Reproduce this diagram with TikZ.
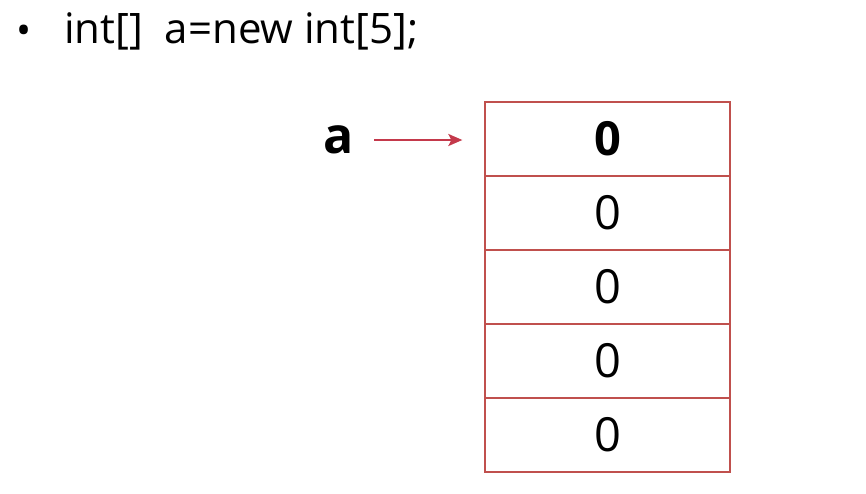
\documentclass[tikz,border=0pt]{standalone}
\usepackage{fontspec}
\setmainfont{Open Sans}
\usetikzlibrary{arrows.meta}
\definecolor{boxred}{RGB}{192,80,77}
\definecolor{arrred}{RGB}{196,57,75}
\tikzset{
  cell/.style={draw=boxred, line width=1.3pt, minimum width=245pt, minimum height=74pt, inner sep=0pt, font=\fontsize{47}{50}\selectfont},
  ptr/.style={draw=arrred, line width=2.2pt, -{Stealth[length=14pt,width=12pt,inset=3pt]}},
}
\begin{document}
\begin{tikzpicture}[x=1pt,y=-1pt]
\useasboundingbox (0,0) rectangle (866,493);
\node[anchor=base, inner sep=0pt, font=\fontsize{40}{44}\selectfont] (bul) at (24,44) {•};
\node[anchor=base west, inner sep=0pt, font=\fontsize{42}{46}\selectfont] (code) at (64,43) {int[]\ \ a=new int[5];};
\node[cell] (c1) at (607.5,139) {\bfseries 0};
\node[cell] (c2) at (607.5,213) {0};
\node[cell] (c3) at (607.5,287) {0};
\node[cell] (c4) at (607.5,361) {0};
\node[cell] (c5) at (607.5,435) {0};
\node[inner sep=0pt, font=\fontsize{50}{54}\selectfont\bfseries] (a) at (339,140) {a};
\draw[ptr, shorten <=20pt, shorten >=22pt] (a.east) -- (a.east -| c1.west);
\end{tikzpicture}
\end{document}
